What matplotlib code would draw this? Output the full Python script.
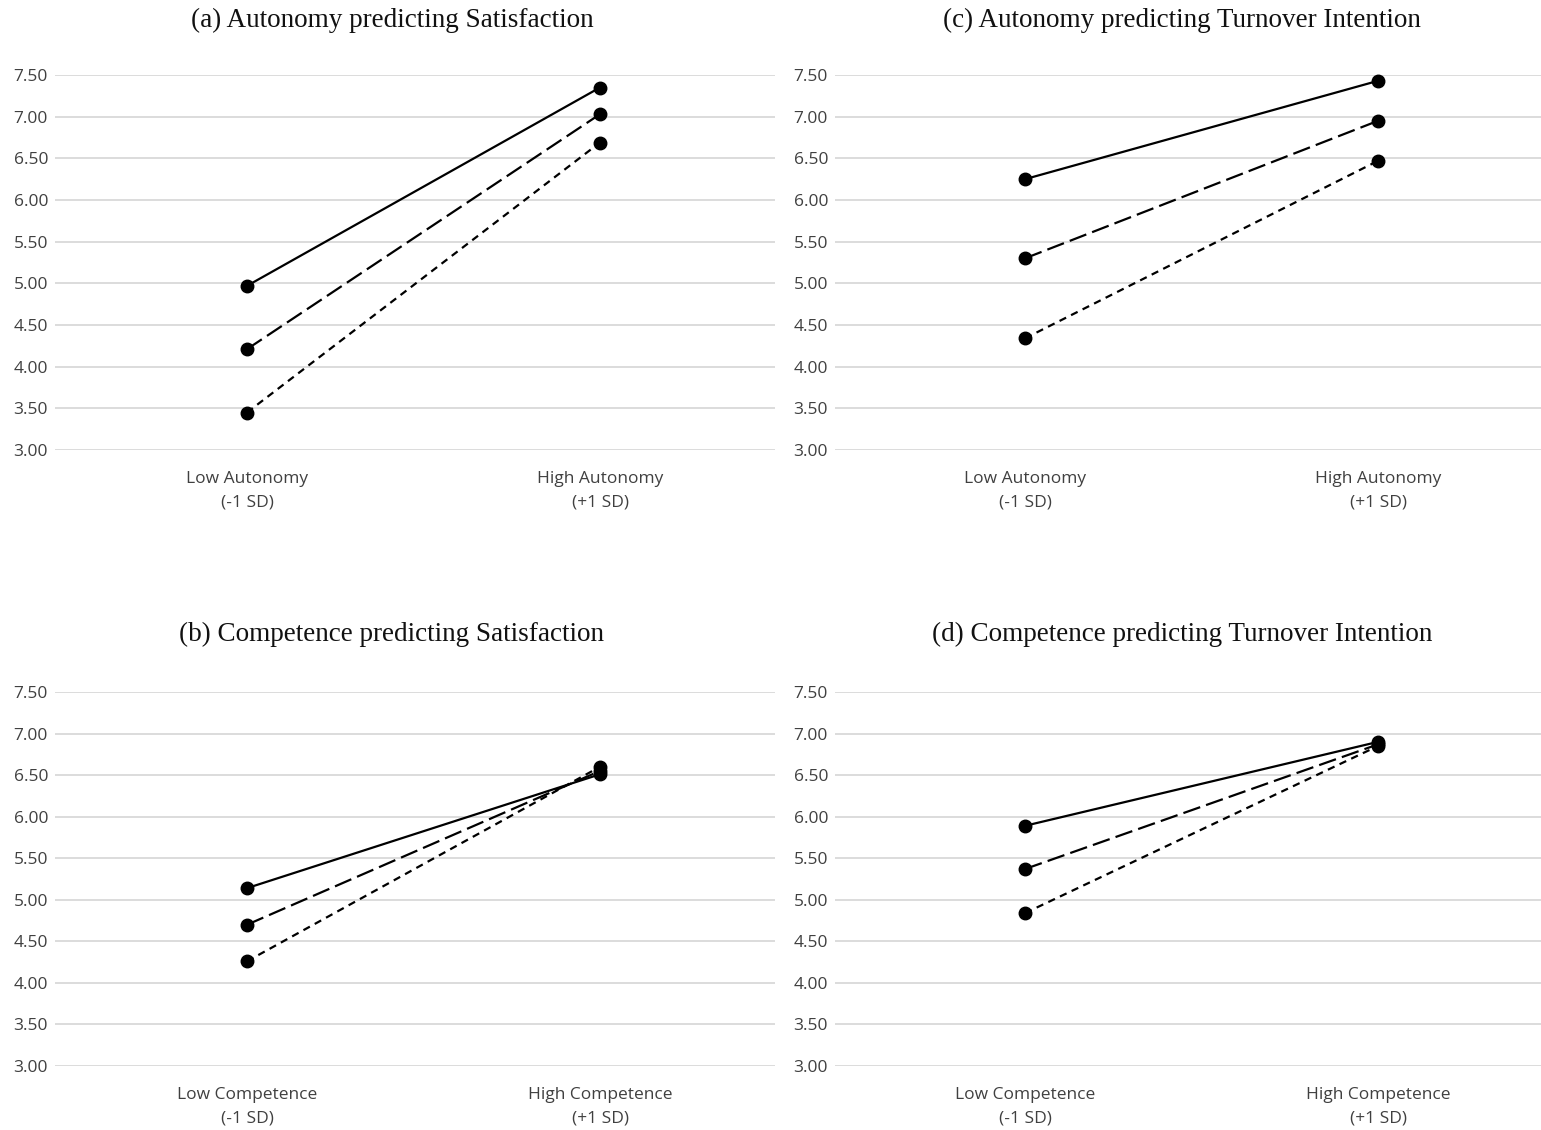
import matplotlib
matplotlib.use("Agg")
import matplotlib.pyplot as plt

# ---- data ----
x_positions = [0, 1]
yticks = [3.00, 3.50, 4.00, 4.50, 5.00, 5.50, 6.00, 6.50, 7.00, 7.50]

titles = {
    "a": "(a) Autonomy predicting Satisfaction",
    "b": "(b) Competence predicting Satisfaction",
    "c": "(c) Autonomy predicting Turnover Intention",
    "d": "(d) Competence predicting Turnover Intention",
}
xlabels_aut = ["Low Autonomy\n(-1 SD)", "High Autonomy\n(+1 SD)"]
xlabels_comp = ["Low Competence\n(-1 SD)", "High Competence\n(+1 SD)"]

# series: solid, long dash, short dash
a_solid = [4.97, 7.35]
a_long = [4.21, 7.03]
a_short = [3.45, 6.69]

b_solid = [5.14, 6.51]
b_long = [4.70, 6.55]
b_short = [4.26, 6.60]

c_solid = [6.25, 7.43]
c_long = [5.30, 6.95]
c_short = [4.34, 6.47]

d_solid = [5.89, 6.90]
d_long = [5.37, 6.87]
d_short = [4.84, 6.85]

W, H = 1541, 1130
fig = plt.figure(figsize=(W / 100, H / 100), dpi=100)
fig.patch.set_facecolor("white")

tick_font = ["Open Sans", "DejaVu Sans"]
title_font = ["Liberation Serif", "DejaVu Serif"]


def make_axes(left_px, right_px, top_px, bottom_px):
    return fig.add_axes([left_px / W, 1 - bottom_px / H,
                         (right_px - left_px) / W, (bottom_px - top_px) / H])


def draw(ax, x0_px, xlabels, solid, long_, short):
    scale = 353.0
    bbox = ax.get_position()
    lpx = bbox.x0 * W
    rpx = bbox.x1 * W
    ax.set_xlim((lpx - x0_px) / scale, (rpx - x0_px) / scale)
    ax.set_ylim(3.0, 7.5)
    for s in ax.spines.values():
        s.set_visible(False)
    ax.set_yticks(yticks)
    ax.set_yticklabels([f"{v:.2f}" for v in yticks], fontfamily=tick_font,
                       fontsize=12.5, color="#404040")
    ax.set_xticks(x_positions)
    ax.set_xticklabels(xlabels, fontfamily=tick_font, fontsize=12.5,
                       color="#404040", linespacing=1.6)
    ax.tick_params(axis="y", length=0, pad=5)
    ax.tick_params(axis="x", length=0, pad=15)
    ax.yaxis.grid(True, color="#d9d9d9", linewidth=1.3)
    ax.set_axisbelow(True)
    kw = dict(color="black", linewidth=1.6, marker="o", markersize=9,
              clip_on=False, zorder=3)
    ax.plot(x_positions, solid, linestyle="-", **kw)
    l2, = ax.plot(x_positions, long_, **kw)
    l2.set_dashes([8, 2.8])
    l3, = ax.plot(x_positions, short, **kw)
    l3.set_dashes([3.3, 2.5])


ax_a = make_axes(55, 775, 75, 450)
draw(ax_a, 247, xlabels_aut, a_solid, a_long, a_short)
ax_c = make_axes(835, 1541, 75, 450)
draw(ax_c, 1025, xlabels_aut, c_solid, c_long, c_short)
ax_b = make_axes(55, 775, 692, 1066)
draw(ax_b, 247, xlabels_comp, b_solid, b_long, b_short)
ax_d = make_axes(835, 1541, 692, 1066)
draw(ax_d, 1025, xlabels_comp, d_solid, d_long, d_short)

for key, (cx, cy) in {"a": (392, 20), "c": (1182, 20),
                      "b": (392, 634), "d": (1182, 634)}.items():
    fig.text(cx / W, 1 - cy / H, titles[key], ha="center", va="center",
             fontfamily=title_font, fontsize=19.5, color="#111111")

fig.savefig("out.png", dpi=100, facecolor="white")
